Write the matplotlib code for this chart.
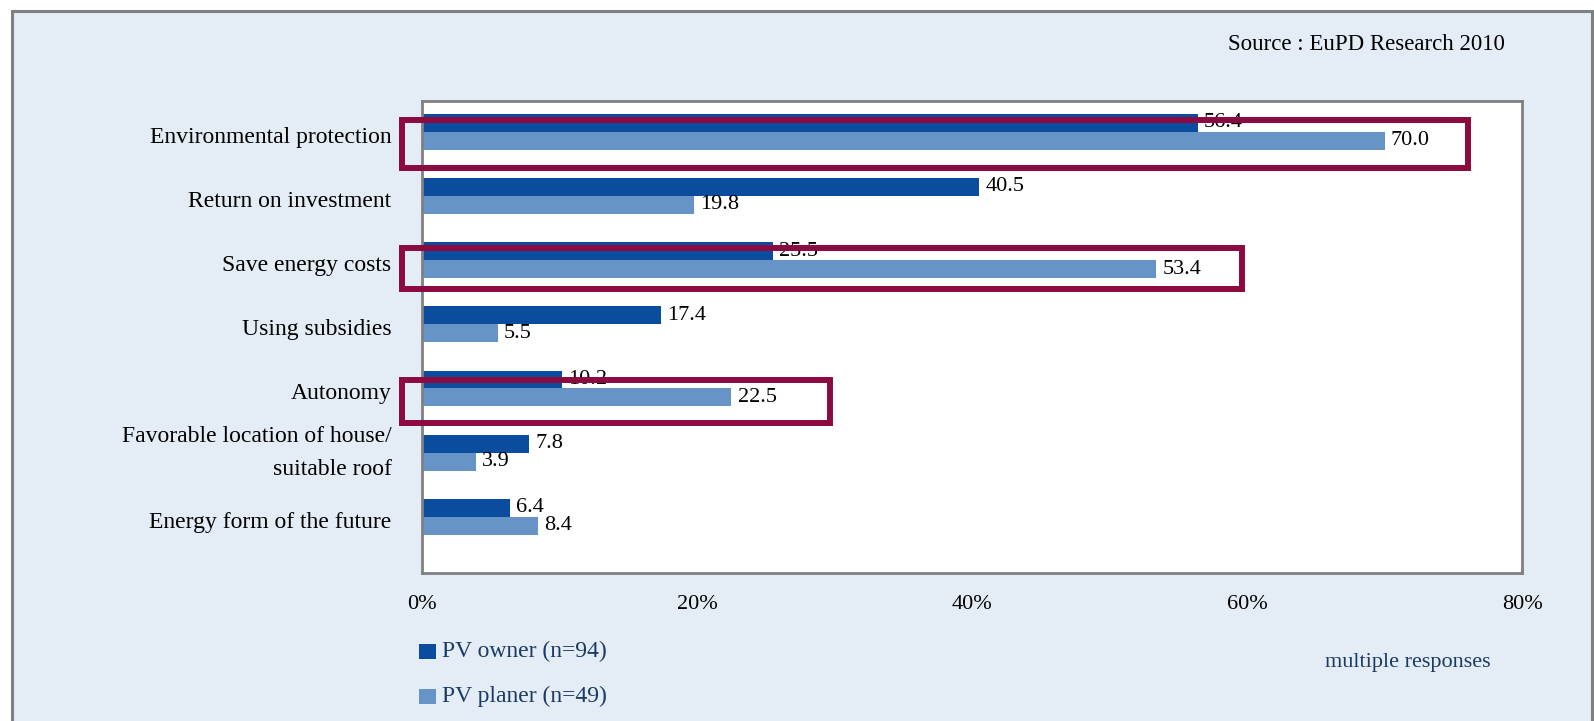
import matplotlib
matplotlib.use("Agg")
import matplotlib.pyplot as plt
from matplotlib.patches import Rectangle
from matplotlib.transforms import ScaledTranslation

plt.rcParams['font.family'] = ['Liberation Serif', 'DejaVu Serif']

# Motives for installing / planning a PV system (multiple responses, %)
categories = [
    "Environmental protection",
    "Return on investment",
    "Save energy costs",
    "Using subsidies",
    "Autonomy",
    "Favorable location of house/\nsuitable roof",
    "Energy form of the future",
]
pv_owner = [56.4, 40.5, 25.5, 17.4, 10.2, 7.8, 6.4]
pv_planer = [70.0, 19.8, 53.4, 5.5, 22.5, 3.9, 8.4]
series_labels = ["PV owner (n=94)", "PV planer (n=49)"]
x_ticks = [0, 20, 40, 60, 80]
x_tick_labels = ["0%", "20%", "40%", "60%", "80%"]
highlighted = ["Environmental protection", "Save energy costs", "Autonomy"]

DARK = "#0A4C9E"
LIGHT = "#6694C6"
BG = "#E4ECF5"
FRAME = "#808080"
MAROON = "#8C0A40"
NAVY = "#1B3A64"

W, H = 1594, 721
fig = plt.figure(figsize=(W / 100, H / 100), dpi=100)
fig.patch.set_facecolor("white")

# panel background with grey border
fig.patches.append(Rectangle((12 / W, -0.02), (1592 - 12) / W, 1.02 - 11 / H,
                             transform=fig.transFigure, facecolor=BG,
                             edgecolor=FRAME, linewidth=2.2, zorder=-5))

ax = fig.add_axes([422 / W, 1 - 573 / H, 1100 / W, 472 / H])
ax.set_zorder(2)
ax.set_facecolor("white")
for s in ax.spines.values():
    s.set_color(FRAME)
    s.set_linewidth(2.0)

ys = list(range(len(categories)))
h = 0.28
ax.barh([y - h / 2 for y in ys], pv_owner, height=h, color=DARK, linewidth=0, zorder=2)
ax.barh([y + h / 2 for y in ys], pv_planer, height=h, color=LIGHT, linewidth=0, zorder=2)

for y, a, b in zip(ys, pv_owner, pv_planer):
    ax.annotate(f"{a:.1f}", (a, y - h / 2), xytext=(4.5, 0), textcoords="offset points",
                va="center", ha="left", fontsize=16, color="black", zorder=4)
    ax.annotate(f"{b:.1f}", (b, y + h / 2), xytext=(4.5, 0), textcoords="offset points",
                va="center", ha="left", fontsize=16, color="black", zorder=4)

ax.set_xlim(0, 80)
ax.set_ylim(6.875, -0.48)
ax.set_xticks(x_ticks)
ax.set_xticklabels(x_tick_labels, fontsize=16)
ax.set_yticks(ys)
ax.set_yticklabels(categories, fontsize=17, linespacing=1.75)
ax.tick_params(axis="x", length=0, pad=16)
ax.tick_params(axis="y", length=0, pad=22)

# nudge labels: single-line labels slightly down, the two-line label up
for lbl in ax.get_yticklabels():
    dy = 6 / 72 if "\n" in lbl.get_text() else -2 / 72
    lbl.set_transform(lbl.get_transform() + ScaledTranslation(0, dy, fig.dpi_scale_trans))

# highlight boxes: (right edge in %, top offset, bottom offset)
box_layout = {
    "Environmental protection": (76.05, -0.18, 0.56),
    "Save energy costs": (59.6, -0.19, 0.45),
    "Autonomy": (29.7, -0.14, 0.53),
}
for name in highlighted:
    right, top, bottom = box_layout[name]
    y = categories.index(name)
    left = -1.46
    ax.add_patch(Rectangle((left, y + top), right - left, bottom - top,
                           fill=False, edgecolor=MAROON, linewidth=4.3,
                           clip_on=False, zorder=5))

fig.text(1505 / W, 1 - 44 / H, "Source : EuPD Research 2010", ha="right", va="center",
         fontsize=16.5, color="black")

# legend
for i, (lab, col) in enumerate(zip(series_labels, [DARK, LIGHT])):
    yc = 651 + i * 45
    fig.patches.append(Rectangle((419 / W, 1 - (yc + 7.5) / H), 17 / W, 15 / H,
                                 transform=fig.transFigure, facecolor=col,
                                 edgecolor="none", zorder=3))
    fig.text(442 / W, 1 - yc / H, lab, ha="left", va="center", fontsize=17, color=NAVY)

fig.text(1325 / W, 1 - 663 / H, "multiple responses", ha="left", va="center",
         fontsize=16, color=NAVY)

fig.savefig("out.png", dpi=100)
